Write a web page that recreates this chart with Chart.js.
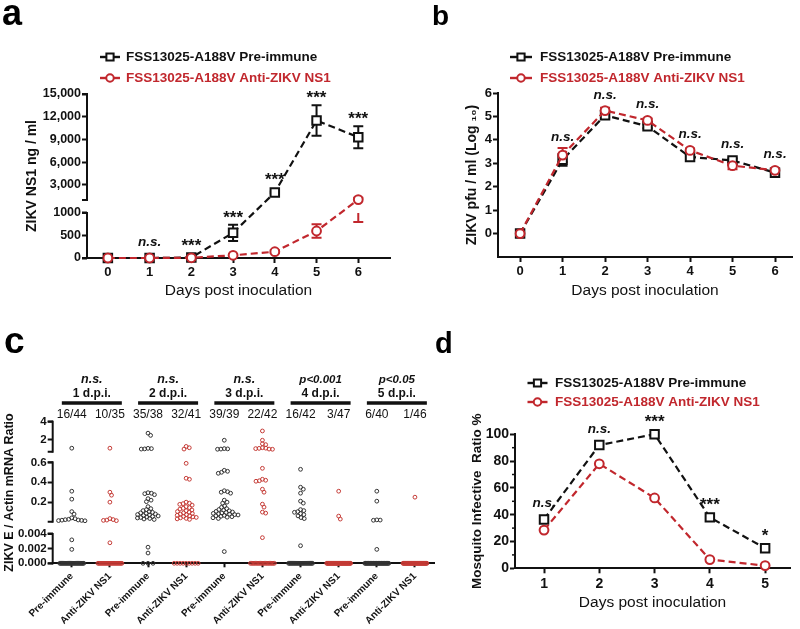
<!DOCTYPE html>
<html>
<head>
<meta charset="utf-8">
<script src="https://cdn.jsdelivr.net/npm/chart.js@4.4.1/dist/chart.umd.min.js"></script>
<style>
html,body{margin:0;padding:0;background:#ffffff;}
#page{position:relative;width:800px;height:629px;overflow:hidden;background:#ffffff;}
canvas{position:absolute;}
</style>
</head>
<body>
<div id="page">
<canvas id="chartA" width="400" height="300" style="left:0px;top:0px"></canvas>
<canvas id="chartB" width="400" height="300" style="left:400px;top:0px"></canvas>
<canvas id="chartC" width="440" height="329" style="left:0px;top:300px"></canvas>
<canvas id="chartD" width="380" height="329" style="left:420px;top:300px"></canvas>
</div>
<script>
// ================= DATA =================
const seriesNames = ['FSS13025-A188V Pre-immune', 'FSS13025-A188V Anti-ZIKV NS1'];

// Panel a : ZIKV NS1 (ng/ml)
const daysA = [0, 1, 2, 3, 4, 5, 6];
const ns1Pre = [0, 0, 10, 560, 2000, 11500, 9300];
const ns1PreErr = [0, 0, 0, 180, 120, 2000, 1450];
const ns1Anti = [0, 0, 5, 60, 140, 600, 1050];
const ns1AntiErr = [0, 0, 0, 20, 30, 150, 250];
const ns1Sig = ['', 'n.s.', '***', '***', '***', '***', '***'];
const ns1TickValues = [0, 500, 1000, 3000, 6000, 9000, 12000, 15000];
const ns1TickLabels = ['0', '500', '1000', '3,000', '6,000', '9,000', '12,000', '15,000'];

// Panel b : ZIKV pfu/ml (log10)
const daysB = [0, 1, 2, 3, 4, 5, 6];
const pfuPre = [0, 3.15, 5.05, 4.58, 3.27, 3.12, 2.6];
const pfuPreErr = [0, 0.25, 0.1, 0.08, 0.08, 0.08, 0.08];
const pfuAnti = [0, 3.35, 5.25, 4.83, 3.55, 2.9, 2.7];
const pfuAntiErr = [0, 0.3, 0.12, 0.08, 0.08, 0.15, 0.08];
const pfuSig = ['', 'n.s.', 'n.s.', 'n.s.', 'n.s.', 'n.s.', 'n.s.'];
const pfuTickValues = [0, 1, 2, 3, 4, 5, 6];

// Panel c : ZIKV E / Actin mRNA ratio in mosquitoes
const rnaGroups = ['Pre-immune', 'Anti-ZIKV NS1', 'Pre-immune', 'Anti-ZIKV NS1', 'Pre-immune', 'Anti-ZIKV NS1', 'Pre-immune', 'Anti-ZIKV NS1', 'Pre-immune', 'Anti-ZIKV NS1'];
const rnaDayLabels = ['1 d.p.i.', '2 d.p.i.', '3 d.p.i.', '4 d.p.i.', '5 d.p.i.'];
const rnaSig = ['n.s.', 'n.s.', 'n.s.', 'p<0.001', 'p<0.05'];
const rnaFractions = ['16/44', '10/35', '35/38', '32/41', '39/39', '22/42', '16/42', '3/47', '6/40', '1/46'];
const rnaTickValues = [0, 0.002, 0.004, 0.2, 0.4, 0.6, 2, 4];
const rnaTickLabels = ['0.000', '0.002', '0.004', '0.2', '0.4', '0.6', '2', '4'];
// detected (non-zero) ratios per group; the remaining mosquitoes of each fraction are 0
const rna1Pre = [1.0, 0.31, 0.23, 0.105, 0.08, 0.042, 0.034, 0.028, 0.024, 0.021, 0.019, 0.017, 0.015, 0.013, 0.0032, 0.0019];
const rna1Anti = [1.0, 0.30, 0.27, 0.2, 0.035, 0.025, 0.02, 0.017, 0.014, 0.0028];
const rna2Pre = [2.7, 2.45, 0.95, 0.92, 0.9, 0.98, 0.295, 0.285, 0.275, 0.29, 0.235, 0.205, 0.22, 0.155, 0.135, 0.125, 0.115, 0.105, 0.098, 0.092, 0.087, 0.081, 0.076, 0.071, 0.066, 0.061, 0.056, 0.051, 0.046, 0.041, 0.036, 0.031, 0.026, 0.0022, 0.0014];
const rna2Anti = [1.2, 1.05, 0.9, 0.59, 0.44, 0.43, 0.2, 0.19, 0.185, 0.178, 0.17, 0.155, 0.145, 0.138, 0.13, 0.122, 0.114, 0.106, 0.099, 0.092, 0.086, 0.08, 0.074, 0.068, 0.062, 0.057, 0.052, 0.047, 0.042, 0.037, 0.032, 0.027];
const rna3Pre = [1.9, 0.95, 0.9, 0.88, 0.92, 0.52, 0.5, 0.49, 0.51, 0.315, 0.305, 0.29, 0.3, 0.22, 0.2, 0.19, 0.162, 0.148, 0.135, 0.126, 0.12, 0.113, 0.107, 0.101, 0.096, 0.091, 0.087, 0.083, 0.079, 0.075, 0.071, 0.067, 0.063, 0.058, 0.054, 0.049, 0.043, 0.036, 0.0016];
const rna3Anti = [2.95, 1.9, 1.5, 1.4, 1.05, 0.98, 1.0, 0.95, 0.9, 0.88, 0.54, 0.43, 0.41, 0.415, 0.42, 0.33, 0.3, 0.18, 0.15, 0.1, 0.09, 0.0035];
const rna4Pre = [0.53, 0.35, 0.33, 0.29, 0.21, 0.19, 0.125, 0.115, 0.105, 0.098, 0.085, 0.075, 0.062, 0.045, 0.035, 0.0024];
const rna4Anti = [0.31, 0.06, 0.03];
const rna5Pre = [0.31, 0.21, 0.022, 0.02, 0.018, 0.0019];
const rna5Anti = [0.25];
const rnaByGroup = [rna1Pre, rna1Anti, rna2Pre, rna2Anti, rna3Pre, rna3Anti, rna4Pre, rna4Anti, rna5Pre, rna5Anti];

// Panel d : Mosquito infective ratio %
const daysD = [1, 2, 3, 4, 5];
const infPre = [36.5, 92, 100, 38, 15];
const infAnti = [28.5, 78, 52.5, 6.5, 2];
const infSig = ['n.s.', 'n.s.', '***', '***', '*'];
const infTickValues = [0, 20, 40, 60, 80, 100];
const infMinorTicks = [10, 30, 50, 70, 90];

// ================= STYLE =================
const FONT = '"Liberation Sans", Arial, Helvetica, sans-serif';
const INK = '#111111';
const RED = '#c1272d';
const DOT_GRAY = '#333333';
const DOT_RED = '#c43a35';
Chart.defaults.font.family = FONT;
Chart.defaults.color = INK;
Chart.defaults.animation = false;
Chart.defaults.events = [];
Chart.defaults.plugins.legend.display = false;
Chart.defaults.plugins.tooltip.enabled = false;

// piecewise (broken) linear axis
class BrokenLinearScale extends Chart.LinearScale {
  static id = 'brokenLinear';
  static defaults = Chart.LinearScale.defaults;
  get segs() { return this.chart.config.options.scales[this.id].segments; }
  segFor(v) { const s = this.segs; for (const g of s) { if (v <= g.to) return g; } return s[s.length - 1]; }
  pixelInSeg(v, g) { return this.getPixelForDecimal(g.d0 + (v - g.from) / (g.to - g.from) * (g.d1 - g.d0)); }
  getPixelForValue(v) {
    if (v === null || v === undefined || isNaN(v)) return NaN;
    return this.pixelInSeg(v, this.segFor(v));
  }
  getValueForPixel(p) {
    const d = this.getDecimalForPixel(p);
    for (const g of this.segs) { if (d >= g.d0 && d <= g.d1) return g.from + (d - g.d0) / (g.d1 - g.d0) * (g.to - g.from); }
    return null;
  }
}
Chart.register(BrokenLinearScale);

function lineSeries(label, vals, errs, days, color, style, order) {
  return {
    label, errors: errs, order,
    data: days.map((d, i) => ({ x: d, y: vals[i] })),
    borderColor: color, borderWidth: 2.2, borderDash: [7, 4], fill: false, tension: 0,
    pointStyle: style, pointRadius: style === 'rect' ? 6 : 4.4, pointBorderWidth: 2,
    pointBorderColor: color, pointBackgroundColor: '#ffffff', clip: false
  };
}

function axisBase(size, pad) {
  return {
    border: { display: true, color: INK, width: 2 },
    grid: { display: true, drawOnChartArea: false, drawTicks: true, tickLength: 5, tickColor: INK, tickWidth: 2 },
    ticks: { color: INK, font: { family: FONT, size: size, weight: 'bold' }, padding: pad }
  };
}

function fixedWidth(w) { return s => { s.width = w; }; }
function fixedHeight(h) { return s => { s.height = h; }; }
function setTicks(vals) { return s => { s.ticks = vals.map(v => ({ value: v })); }; }

function drawText(ctx, text, x, y, font, color, align, baseline, rot) {
  ctx.save();
  ctx.font = font; ctx.fillStyle = color || INK;
  ctx.textAlign = align || 'left'; ctx.textBaseline = baseline || 'alphabetic';
  if (rot) { ctx.translate(x, y); ctx.rotate(rot); ctx.fillText(text, 0, 0); }
  else ctx.fillText(text, x, y);
  ctx.restore();
}

function letterPlugin(letter, x, y, size) {
  return { id: 'panelLetter', afterDraw(chart) { drawText(chart.ctx, letter, x, y, `bold ${size}px ${FONT}`, '#000'); } };
}

function keyPlugin(cfg) {
  return { id: 'seriesKey', afterDraw(chart) {
    const ctx = chart.ctx;
    chart.data.datasets.forEach((ds, i) => {
      const y = cfg.y + i * cfg.gap;
      ctx.save();
      ctx.setLineDash([]);
      ctx.strokeStyle = ds.borderColor; ctx.lineWidth = 2.4;
      ctx.beginPath(); ctx.moveTo(cfg.x - cfg.half, y); ctx.lineTo(cfg.x + cfg.half, y); ctx.stroke();
      ctx.fillStyle = '#ffffff'; ctx.lineWidth = 2;
      Chart.helpers.drawPoint(ctx, { pointStyle: ds.pointStyle, radius: ds.pointRadius * 0.85, borderWidth: 2, rotation: 0 }, cfg.x, y);
      ctx.restore();
      drawText(ctx, ds.label, cfg.textX, y, `bold 13.5px ${FONT}`, ds.borderColor, 'left', 'middle');
    });
  }};
}

const errorBarPlugin = {
  id: 'errorBars',
  beforeDatasetsDraw(chart) {
    const ctx = chart.ctx, xs = chart.scales.x, ys = chart.scales.y;
    chart.data.datasets.forEach(ds => {
      if (!ds.errors) return;
      ctx.save(); ctx.strokeStyle = ds.borderColor; ctx.lineWidth = 2; ctx.setLineDash([]);
      ds.data.forEach((pt, i) => {
        const e = ds.errors[i]; if (!e) return;
        const x = xs.getPixelForValue(pt.x);
        const lo = Math.max(pt.y - e, ys.min), hi = pt.y + e;
        ctx.beginPath();
        if (ys.segs) {
          for (const g of ys.segs) {
            const a = Math.max(lo, g.from), b = Math.min(hi, g.to);
            if (b > a) { ctx.moveTo(x, ys.pixelInSeg(a, g)); ctx.lineTo(x, ys.pixelInSeg(b, g)); }
          }
        } else { ctx.moveTo(x, ys.getPixelForValue(lo)); ctx.lineTo(x, ys.getPixelForValue(hi)); }
        const pl = ys.getPixelForValue(lo), ph = ys.getPixelForValue(hi);
        ctx.moveTo(x - 5, pl); ctx.lineTo(x + 5, pl); ctx.moveTo(x - 5, ph); ctx.lineTo(x + 5, ph);
        ctx.stroke();
      });
      ctx.restore();
    });
  }
};

function sigPlugin(labels, xvals) {
  return { id: 'sigLabels', afterDatasetsDraw(chart) {
    const xs = chart.scales.x, ys = chart.scales.y;
    labels.forEach((lab, i) => {
      if (!lab) return;
      let top = Infinity;
      chart.data.datasets.forEach(ds => {
        const v = ds.data[i].y, e = ds.errors ? ds.errors[i] : 0;
        top = Math.min(top, ys.getPixelForValue(v + e), ys.getPixelForValue(v) - 5);
      });
      const star = lab[0] === '*';
      drawText(chart.ctx, lab, xs.getPixelForValue(xvals[i]), top - (star ? 2 : 7),
        star ? `bold 17px ${FONT}` : `italic bold 13.5px ${FONT}`, INK, 'center', 'alphabetic');
    });
  }};
}

const brokenAxisPlugin = {
  id: 'brokenAxis',
  afterDraw(chart) {
    const ys = chart.scales.y; if (!ys.segs) return;
    const ctx = chart.ctx, x = chart.chartArea.left;
    ctx.save(); ctx.strokeStyle = INK; ctx.lineWidth = 2; ctx.setLineDash([]);
    for (const g of ys.segs) {
      const p0 = ys.pixelInSeg(g.from, g), p1 = ys.pixelInSeg(g.to, g);
      ctx.beginPath(); ctx.moveTo(x, p0 + 1); ctx.lineTo(x, p1 - 1); ctx.stroke();
      ctx.beginPath(); ctx.moveTo(x - 5, p0); ctx.lineTo(x, p0); ctx.moveTo(x - 5, p1); ctx.lineTo(x, p1); ctx.stroke();
    }
    ctx.restore();
  }
};

// ================= PANEL A =================
const yA = axisBase(12.5, 1);
Object.assign(yA, {
  type: 'brokenLinear', min: 0, max: 15000,
  segments: [{ from: 0, to: 1000, d0: 0, d1: 0.2744 }, { from: 1000, to: 15000, d0: 0.3537, d1: 1 }],
  afterBuildTicks: setTicks(ns1TickValues), afterFit: fixedWidth(87),
  title: { display: true, text: 'ZIKV NS1 ng / ml', color: INK, font: { family: FONT, size: 14, weight: 'bold' }, padding: { top: 23.6, bottom: 0 } }
});
yA.border = { display: false };
yA.ticks.callback = v => { const k = ns1TickValues.indexOf(v); return k < 0 ? '' : ns1TickLabels[k]; };
const xA = axisBase(13, 2);
Object.assign(xA, {
  type: 'linear', min: -0.5, max: 6.76, afterBuildTicks: setTicks(daysA), afterFit: fixedHeight(42),
  title: { display: true, text: 'Days post inoculation', color: INK, font: { family: FONT, size: 15.5, weight: 'normal' }, padding: { top: 0, bottom: 0 } }
});
xA.ticks.callback = v => String(v);

new Chart(document.getElementById('chartA'), {
  type: 'line',
  data: { datasets: [
    lineSeries(seriesNames[0], ns1Pre, ns1PreErr, daysA, INK, 'rect', 1),
    lineSeries(seriesNames[1], ns1Anti, ns1AntiErr, daysA, RED, 'circle', 0)
  ]},
  options: {
    responsive: false, maintainAspectRatio: false,
    layout: { autoPadding: false, padding: { left: 0, right: 10, top: 94, bottom: 0 } },
    scales: { x: xA, y: yA }
  },
  plugins: [errorBarPlugin, brokenAxisPlugin, sigPlugin(ns1Sig, daysA), letterPlugin('a', 2, 25, 36),
    keyPlugin({ x: 110, half: 10, y: 57, gap: 21, textX: 126 })]
});

// ================= PANEL B =================
const yB = axisBase(13, 1);
Object.assign(yB, {
  type: 'linear', min: -1, max: 6, afterBuildTicks: setTicks(pfuTickValues), afterFit: fixedWidth(98),
  title: { display: true, text: 'ZIKV pfu / ml (Log \u2081\u2080)', color: INK, font: { family: FONT, size: 14, weight: 'bold' }, padding: { top: 63.6, bottom: 0 } }
});
yB.ticks.callback = v => String(v);
const xB = axisBase(13, 2);
Object.assign(xB, {
  type: 'linear', min: -0.52, max: 6.4, afterBuildTicks: setTicks(daysB), afterFit: fixedHeight(43),
  title: { display: true, text: 'Days post inoculation', color: INK, font: { family: FONT, size: 15.5, weight: 'normal' }, padding: { top: 0, bottom: 0 } }
});
xB.ticks.callback = v => String(v);

new Chart(document.getElementById('chartB'), {
  type: 'line',
  data: { datasets: [
    lineSeries(seriesNames[0], pfuPre, pfuPreErr, daysB, INK, 'rect', 1),
    lineSeries(seriesNames[1], pfuAnti, pfuAntiErr, daysB, RED, 'circle', 0)
  ]},
  options: {
    responsive: false, maintainAspectRatio: false,
    layout: { autoPadding: false, padding: { left: 0, right: 8, top: 93, bottom: 0 } },
    scales: { x: xB, y: yB }
  },
  plugins: [errorBarPlugin, sigPlugin(pfuSig, daysB), letterPlugin('b', 32, 25, 28),
    keyPlugin({ x: 121, half: 11, y: 57, gap: 21, textX: 140 })]
});

// ================= PANEL C =================
const yC = axisBase(11.5, 1);
Object.assign(yC, {
  type: 'brokenLinear', min: 0, max: 4,
  segments: [{ from: 0, to: 0.004, d0: 0, d1: 0.207 }, { from: 0.004, to: 0.6, d0: 0.294, d1: 0.713 }, { from: 0.6, to: 4, d0: 0.788, d1: 1 }],
  afterBuildTicks: setTicks(rnaTickValues), afterFit: fixedWidth(52.7),
  title: { display: true, text: 'ZIKV E / Actin mRNA Ratio', color: INK, font: { family: FONT, size: 12.5, weight: 'bold' }, padding: { top: 2.5, bottom: 0 } }
});
yC.border = { display: false };
yC.ticks.callback = v => { const k = rnaTickValues.indexOf(v); return k < 0 ? '' : rnaTickLabels[k]; };
const xC = axisBase(10, 3);
Object.assign(xC, {
  type: 'linear', min: -0.5, max: 9.5, afterBuildTicks: setTicks(rnaGroups.map((_, i) => i)), afterFit: fixedHeight(65.7)
});
xC.grid.tickLength = 4;
Object.assign(xC.ticks, { minRotation: 45, maxRotation: 45, autoSkip: false, callback: v => rnaGroups[v] });

const rnaDatasets = [0, 1].map(k => ({
  label: k ? 'Anti-ZIKV NS1' : 'Pre-immune', data: [],
  pointStyle: 'circle', pointRadius: 1.9, pointBorderWidth: 1,
  pointBorderColor: k ? DOT_RED : DOT_GRAY, pointBackgroundColor: 'rgba(255,255,255,0)', clip: false
}));
rnaByGroup.forEach((vals, g) => {
  const total = Number(rnaFractions[g].split('/')[1]);
  const undetected = new Array(total - vals.length).fill(0);
  vals.concat(undetected).forEach(v => rnaDatasets[g % 2].data.push({ x: g, y: v, g }));
});

const rnaHeaderPlugin = {
  id: 'rnaHeader',
  afterDraw(chart) {
    const ctx = chart.ctx, xs = chart.scales.x;
    rnaDayLabels.forEach((lab, i) => {
      const cx = (xs.getPixelForValue(2 * i) + xs.getPixelForValue(2 * i + 1)) / 2 + 1;
      const small = rnaSig[i][0] === 'p';
      drawText(ctx, rnaSig[i], cx, 82.5, `italic bold ${small ? 11.5 : 12.5}px ${FONT}`, INK, 'center');
      drawText(ctx, lab, cx, 96.5, `bold 12px ${FONT}`, INK, 'center');
      ctx.save(); ctx.strokeStyle = INK; ctx.lineWidth = 3.5;
      ctx.beginPath(); ctx.moveTo(cx - 30, 103); ctx.lineTo(cx + 30, 103); ctx.stroke(); ctx.restore();
    });
    rnaFractions.forEach((f, g) => drawText(ctx, f, xs.getPixelForValue(g), 117.8, `12px ${FONT}`, INK, 'center'));
  }
};

function swarm(pys, diam) {
  const order = pys.map((y, i) => i).sort((a, b) => pys[a] - pys[b]);
  const placed = [], off = new Array(pys.length).fill(0);
  for (const i of order) {
    const y = pys[i];
    const near = placed.filter(p => Math.abs(p.y - y) < diam);
    let best = 0;
    if (near.length) {
      const cands = [0];
      near.forEach(p => { const dx = Math.sqrt(Math.max(0, diam * diam - (p.y - y) ** 2)); cands.push(p.x + dx, p.x - dx); });
      cands.sort((a, b) => Math.abs(a) - Math.abs(b));
      best = cands.find(c => near.every(p => (p.x - c) ** 2 + (p.y - y) ** 2 >= diam * diam - 0.01));
    }
    off[i] = best; placed.push({ x: best, y });
  }
  return off;
}

const chartC = new Chart(document.getElementById('chartC'), {
  type: 'scatter',
  data: { datasets: rnaDatasets },
  options: {
    responsive: false, maintainAspectRatio: false,
    layout: { autoPadding: false, padding: { left: 0, right: 6, top: 121.7, bottom: 0 } },
    scales: { x: xC, y: yC }
  },
  plugins: [brokenAxisPlugin, rnaHeaderPlugin, letterPlugin('c', 4, 53, 37)]
});
(function applySwarm(chart) {
  const xs = chart.scales.x, ys = chart.scales.y;
  const unit = xs.getPixelForValue(1) - xs.getPixelForValue(0);
  chart.data.datasets.forEach(ds => {
    const groups = {};
    ds.data.forEach(p => { (groups[p.g] = groups[p.g] || []).push(p); });
    const out = [];
    Object.values(groups).forEach(pts => {
      const zeros = pts.filter(p => p.y === 0), pos = pts.filter(p => p.y !== 0);
      const step = zeros.length > 1 ? Math.min(5, 24 / (zeros.length - 1)) : 0;
      zeros.forEach((p, k) => out.push({ x: p.g + (k - (zeros.length - 1) / 2) * step / unit, y: p.y, g: p.g }));
      const offs = swarm(pos.map(p => ys.getPixelForValue(p.y)), 3.4);
      pos.forEach((p, k) => out.push({ x: p.g + offs[k] / unit, y: p.y, g: p.g }));
    });
    ds.data = out;
  });
  chart.update('none');
})(chartC);

// ================= PANEL D =================
const yD = axisBase(14, 1);
Object.assign(yD, {
  type: 'linear', min: 0, max: 100, afterBuildTicks: setTicks(infTickValues), afterFit: fixedWidth(95),
  title: { display: true, text: 'Mosquito Infective  Ratio %', color: INK, font: { family: FONT, size: 13.5, weight: 'bold' }, padding: { top: 48.9, bottom: 0 } }
});
yD.ticks.callback = v => String(v);
const xD = axisBase(14, 2);
Object.assign(xD, {
  type: 'linear', min: 0.475, max: 5.45, afterBuildTicks: setTicks(daysD), afterFit: fixedHeight(60.7),
  title: { display: true, text: 'Days post inoculation', color: INK, font: { family: FONT, size: 15.5, weight: 'normal' }, padding: { top: 0, bottom: 17 } }
});
xD.ticks.callback = v => String(v);

const minorTickPlugin = {
  id: 'minorTicks',
  afterDraw(chart) {
    const ys = chart.scales.y, ctx = chart.ctx, x = chart.chartArea.left;
    ctx.save(); ctx.strokeStyle = INK; ctx.lineWidth = 1.5;
    infMinorTicks.forEach(v => { const y = ys.getPixelForValue(v); ctx.beginPath(); ctx.moveTo(x - 3, y); ctx.lineTo(x, y); ctx.stroke(); });
    ctx.restore();
  }
};

new Chart(document.getElementById('chartD'), {
  type: 'line',
  data: { datasets: [
    lineSeries(seriesNames[0], infPre, null, daysD, INK, 'rect', 1),
    lineSeries(seriesNames[1], infAnti, null, daysD, RED, 'circle', 0)
  ]},
  options: {
    responsive: false, maintainAspectRatio: false,
    layout: { autoPadding: false, padding: { left: 0, right: 10, top: 134.3, bottom: 0 } },
    scales: { x: xD, y: yD }
  },
  plugins: [minorTickPlugin, sigPlugin(infSig, daysD), letterPlugin('d', 15, 53, 29),
    keyPlugin({ x: 117.5, half: 10, y: 83, gap: 19, textX: 135 })]
});
</script>
</body>
</html>
